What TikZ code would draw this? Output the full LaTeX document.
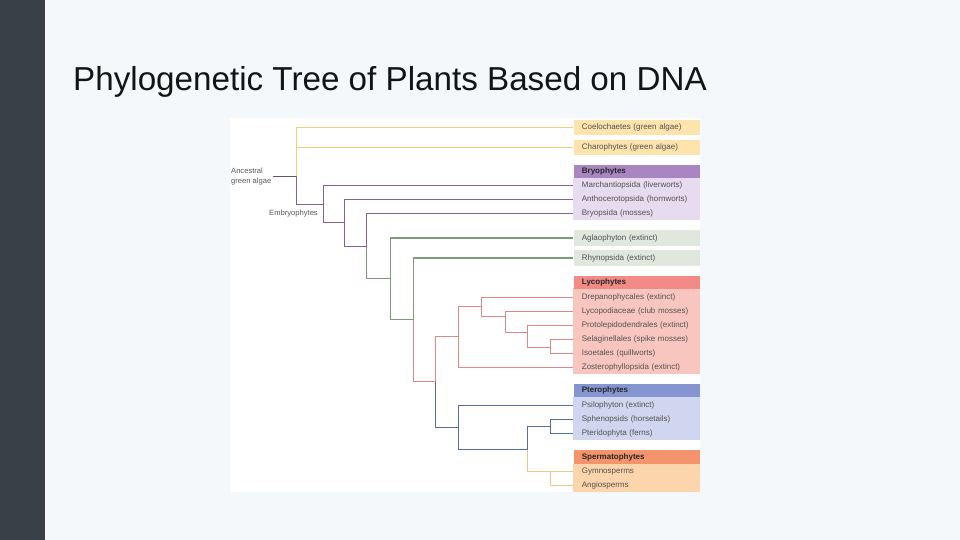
\documentclass[tikz,border=0pt]{standalone}
\usepackage{fontspec}
\setmainfont{Liberation Sans}
\usepackage{xcolor}
\usepackage{tikz}
\usetikzlibrary{positioning}

\definecolor{slide}{HTML}{F4F8FB}
\definecolor{sidebar}{HTML}{3A4048}
\definecolor{algaebox}{HTML}{FDE3AC}
\definecolor{bryohead}{HTML}{A986C2}
\definecolor{bryobody}{HTML}{E6DBEF}
\definecolor{rhynbox}{HTML}{E0E7DC}
\definecolor{lycohead}{HTML}{F28B85}
\definecolor{lycobody}{HTML}{F9C6BF}
\definecolor{pterohead}{HTML}{8595CF}
\definecolor{pterobody}{HTML}{D0D6EF}
\definecolor{spermhead}{HTML}{F4946C}
\definecolor{spermbody}{HTML}{FDD5AD}
\definecolor{yelcol}{HTML}{EECF7E}
\definecolor{purcol}{HTML}{85619A}
\definecolor{grncol}{HTML}{7D9B78}
\definecolor{pnkcol}{HTML}{E08886}
\definecolor{blucol}{HTML}{566EA3}
\definecolor{orgcol}{HTML}{F1C487}
\definecolor{anccol}{HTML}{65546B}

\begin{document}
\begin{tikzpicture}[
    x=1pt,
    y=-1pt,
    leaf/.style={anchor=west, font=\fontsize{8}{9}\selectfont, text=black!68, inner xsep=8.4pt, inner ysep=0pt, text width=109.9pt, align=left, minimum height=14pt},
    head/.style={leaf, font=\fontsize{8}{9}\selectfont\bfseries, text=black!85, minimum height=13pt},
    note/.style={font=\fontsize{7.6}{9.3}\selectfont, text=black!65, inner sep=1.5pt, align=left},
    branch/.style={line width=1.8pt},
    yelline/.style={branch, draw=yelcol},
    purline/.style={branch, draw=purcol},
    grnline/.style={branch, draw=grncol},
    pnkline/.style={branch, draw=pnkcol},
    bluline/.style={branch, draw=blucol},
    orgline/.style={branch, draw=orgcol}
]
% Slide
\useasboundingbox (0,0) rectangle (960,540);
\fill[slide] (0,0) rectangle (960,540);
\fill[sidebar] (0,0) rectangle (44.5,540);
\node[anchor=base west, inner sep=0pt, font=\fontsize{33.2}{36}\selectfont, text=black!92] (title) at (73,91) {Phylogenetic Tree of Plants Based on DNA};
\fill[white] (230,118) rectangle (700,492);

% Green algae
\node[leaf, fill=algaebox, minimum height=15pt] (coel) at (573.3,127.5) {Coelochaetes (green algae)};
\node[leaf, fill=algaebox, minimum height=14.5pt] (char) at (573.3,147.5) {Charophytes (green algae)};

% Bryophytes
\fill[bryobody] (573.3,177.7) rectangle (700,220);
\node[head, fill=bryohead] (bryo) at (573.3,171.7) {Bryophytes};
\foreach \nm/\yy/\txt in {march/185.5/Marchantiopsida (liverworts), anth/199.5/Anthocerotopsida (hornworts), bryops/213.5/Bryopsida (mosses)} {
  \node[leaf] (\nm) at (573.3,\yy) {\txt};
}

% Rhyniophytes
\node[leaf, fill=rhynbox, minimum height=16pt] (aglao) at (573.3,238) {Aglaophyton (extinct)};
\node[leaf, fill=rhynbox, minimum height=15.7pt] (rhyn) at (573.3,258) {Rhynopsida (extinct)};

% Lycophytes
\fill[lycobody] (573.3,288.3) rectangle (700,374.3);
\node[head, fill=lycohead] (lyco) at (573.3,282) {Lycophytes};
\foreach \nm/\yy/\txt in {drep/297.5/Drepanophycales (extinct), lycop/311.5/Lycopodiaceae (club mosses), proto/325.5/Protolepidodendrales (extinct), selag/339.5/Selaginellales (spike mosses), isoe/353.5/Isoetales (quillworts), zost/367.5/Zosterophyllopsida (extinct)} {
  \node[leaf] (\nm) at (573.3,\yy) {\txt};
}

% Pterophytes
\fill[pterobody] (573.3,396.7) rectangle (700,440);
\node[head, fill=pterohead] (ptero) at (573.3,390) {Pterophytes};
\foreach \nm/\yy/\txt in {psilo/405.5/Psilophyton (extinct), spheno/419.5/Sphenopsids (horsetails), pterid/433.5/Pteridophyta (ferns)} {
  \node[leaf] (\nm) at (573.3,\yy) {\txt};
}

% Spermatophytes
\fill[spermbody] (573.3,464) rectangle (700,492.3);
\node[head, fill=spermhead, minimum height=14pt] (sperm) at (573.3,457) {Spermatophytes};
\foreach \nm/\yy/\txt in {gymno/471.5/Gymnosperms, angio/485.5/Angiosperms} {
  \node[leaf] (\nm) at (573.3,\yy) {\txt};
}

% Branch points
\coordinate (root) at (296.5,176.5);
\coordinate (embryo) at (323.5,204.5);
\coordinate (stomato) at (344.5,222.5);
\coordinate (mossnode) at (366.5,246.5);
\coordinate (polysp) at (390.5,278.5);
\coordinate (tracheo) at (413.5,319.5);
\coordinate (vascular) at (435.5,381.5);
\coordinate (lycoph) at (458.5,336.5);
\coordinate (lyA) at (481.5,306.5);
\coordinate (lyB) at (505.5,316.5);
\coordinate (lyC) at (527.5,332.5);
\coordinate (lyD) at (550.5,347.5);
\coordinate (euphyll) at (458.5,427.5);
\coordinate (ptsp) at (527.5,449.5);
\coordinate (fern) at (550.5,426.5);
\coordinate (seed) at (550.5,471.5);

% Side labels
\node[note, anchor=west] (anc) at (229.5,176.5) {Ancestral\\green algae};
\node[note, anchor=east] (embl) at (319.5,213.3) {Embryophytes};
\draw[branch, draw=anccol] (anc.east) -- (root);

% Tree
\draw[yelline] (root) |- (coel) (root) |- (char);
\draw[purline] (root) |- (embryo) (embryo) |- (march) (embryo) |- (stomato)
  (stomato) |- (anth) (stomato) |- (mossnode) (mossnode) |- (bryops);
\draw[grnline] (mossnode) |- (polysp) (polysp) |- (aglao) (polysp) |- (tracheo)
  (tracheo) |- (rhyn);
\draw[pnkline] (tracheo) |- (vascular) (vascular) |- (lycoph)
  (lycoph) |- (lyA) (lycoph) |- (zost) (lyA) |- (drep) (lyA) |- (lyB)
  (lyB) |- (lycop) (lyB) |- (lyC) (lyC) |- (proto) (lyC) |- (lyD)
  (lyD) |- (selag) (lyD) |- (isoe);
\draw[bluline] (vascular) |- (euphyll) (euphyll) |- (psilo) (euphyll) |- (ptsp)
  (ptsp) |- (fern) (fern) |- (spheno) (fern) |- (pterid);
\draw[orgline] (ptsp) |- (gymno) (seed) |- (angio);
\end{tikzpicture}
\end{document}
